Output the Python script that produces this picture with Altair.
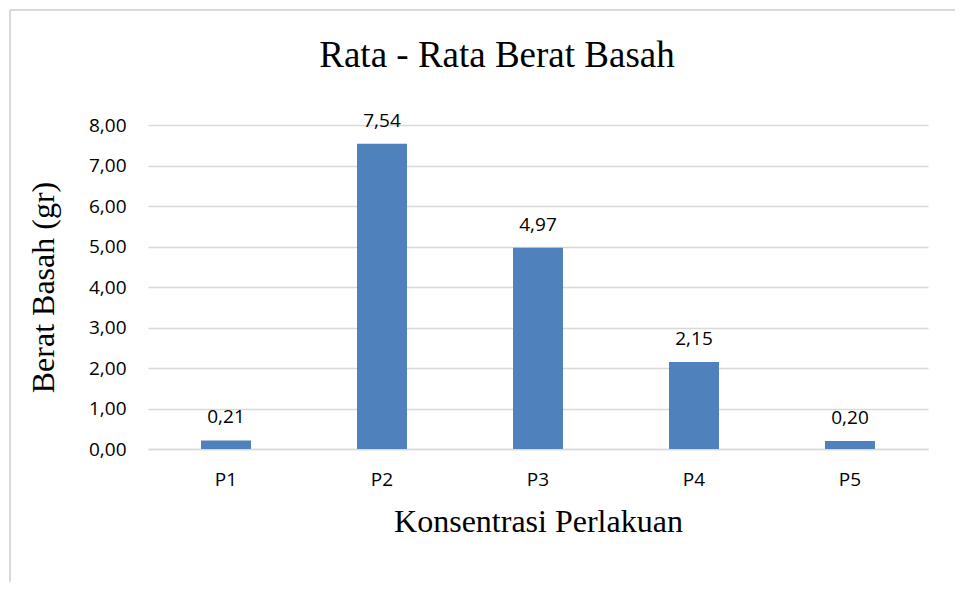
import altair as alt
import pandas as pd

categories = ["P1", "P2", "P3", "P4", "P5"]
values = [0.21, 7.54, 4.97, 2.15, 0.20]
y_ticks = [0, 1, 2, 3, 4, 5, 6, 7, 8]

df = pd.DataFrame({"cat": categories, "val": values})

SANS = "Open Sans"
SERIF = "Liberation Serif"
W, H = 780, 324

base = alt.Chart(df)

x = alt.X("cat:N", sort=categories,
          scale=alt.Scale(paddingInner=0, paddingOuter=0),
          axis=alt.Axis(title="Konsentrasi Perlakuan", labelAngle=0,
                        labelFont=SANS, labelFontSize=19, labelColor="#000000",
                        labelPadding=21, ticks=False, domainColor="#d9d9d9",
                        domainWidth=1.5, titleFont=SERIF, titleFontSize=32,
                        titleFontWeight="normal", titleColor="#000000",
                        titlePadding=17))
y = alt.Y("val:Q", scale=alt.Scale(domain=[0, 8]),
          axis=alt.Axis(title="Berat Basah (gr)", values=y_ticks,
                        labelExpr="replace(format(datum.value, '.2f'), '.', ',')",
                        labelFont=SANS, labelFontSize=19, labelColor="#000000",
                        labelPadding=22, ticks=False, domain=False,
                        gridColor="#d9d9d9", gridWidth=1.3,
                        titleFont=SERIF, titleFontSize=32, titleFontWeight="normal",
                        titleColor="#000000", titlePadding=28))

bars = base.mark_bar(size=50, color="#4f81bd").encode(x=x, y=y)

labels = base.transform_calculate(
    lbl="replace(format(datum.val, '.2f'), '.', ',')"
).mark_text(font=SANS, fontSize=19, color="#000000", baseline="alphabetic", dy=-17).encode(
    x=alt.X("cat:N", sort=categories), y="val:Q", text="lbl:N")

border_top = alt.Chart(df).mark_rule(color="#d9d9d9", strokeWidth=2).encode(
    x=alt.value(-138), x2=alt.value(900), y=alt.value(-115))
border_left = alt.Chart(df).mark_rule(color="#d9d9d9", strokeWidth=2).encode(
    x=alt.value(-138), y=alt.value(-115), y2=alt.value(600))

chart = alt.layer(border_top, border_left, bars, labels).properties(
    width=W, height=H,
    title=alt.TitleParams("Rata - Rata Berat Basah", font=SERIF, fontSize=37,
                          fontWeight="normal", color="#000000", anchor="middle",
                          offset=0, dy=66, dx=-41),
    padding={"left": 140, "top": 117, "right": 27, "bottom": 133},
    autosize=alt.AutoSizeParams(type="none"),
    background="#ffffff",
).configure_view(stroke=None)

chart.save("out.html", embed_options={"renderer": "svg", "actions": False})
